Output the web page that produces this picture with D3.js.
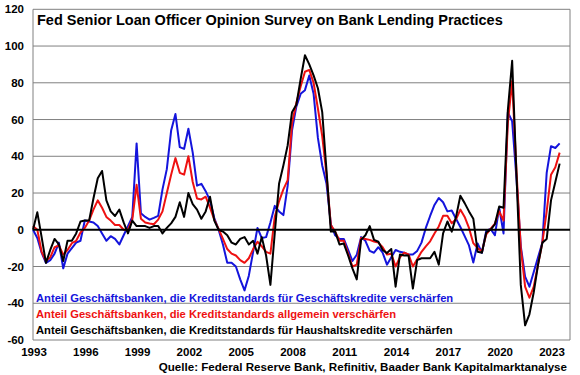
<!DOCTYPE html>
<html>
<head>
<meta charset="utf-8">
<script src="https://cdn.jsdelivr.net/npm/d3@7"></script>
<style>
  body { margin: 0; background: #fff; }
  text { font-family: "Liberation Sans", Arial, sans-serif; font-weight: bold; }
</style>
</head>
<body>
<svg id="chart" width="580" height="375"></svg>
<script>
// quarterly, 1993 Q1 .. 2023 Q3
const quarters = d3.range(123).map(i => 1993 + i / 4);
const yearTicks = [1993, 1996, 1999, 2002, 2005, 2008, 2011, 2014, 2017, 2020, 2023];
const valueTicks = [-60, -40, -20, 0, 20, 40, 60, 80, 100, 120];

// Geschäftskredite (blue)
const business = [0, -4.5, -12.5, -18, -16.5, -13, -7, -21, -13, -10, -7, -6, 5, 4.5, 4, 2,
  -2, -6, -3.5, -5, -8, -3, 2, 7, 47, 9, 7, 5.5, 6.5, 7.6, 22, 33, 54, 63, 45, 44, 55, 42,
  24, 25, 21, 16, 6.4, 0, -8, -18, -18, -20, -27, -33, -25, -12, 1, -4.5, -4, 4, 13, 10,
  8, 24, 54, 67, 74, 76, 84, 74, 50, 35, 25, 3, -3, -5, -5, -11, -17, -13.6, -4, -6, -11.5,
  -12.5, -9.5, -12.5, -19, -15, -11, -12, -12.5, -13.5, -13.5, -11.5, -7, 1, 7.5, 13.5,
  17.3, 15, 10, 10.5, 6, 1.5, -3.5, -8.5, -17.8, -7.5, -12.5, -0.5, 0.5, -3, 12, -2, 64,
  59, 28, -9, -25.5, -31, -23, -15, -7, 31, 45.5, 44.5, 47];
// allgemein (red)
const overall = [2, 0, -12, -17, -15, -9.5, -8.5, -13.5, -11, -7.3, -6, -1.5, 1, 5, 11, 16,
  12, 7, 5, 2.6, 2.6, 0, 0, 5.5, 24.5, 6, 4, 3.4, 3, 5.5, 10, 20, 30, 39, 31, 30, 40, 26,
  17, 16.5, 18, 12, 5.5, 0.5, -5, -10.5, -13, -14, -16.5, -18, -15.5, -10.5, -6.5, -9, -12,
  -13, 7, 15.5, 22, 27, 58, 69, 78, 86, 87, 80, 66, 51, 30, 2.5, -1, -6, -6, -13, -20, -19,
  -4.5, -5, -5.5, -6.4, -7, -9.5, -13.5, -13, -20, -15, -12.5, -13.4, -20, -16, -12, -9,
  -6.3, -2, 1.8, 7.6, 7.6, 3.6, 5.7, 11, 7, 1, -7.3, -10, -11.8, -2.5, 0.5, 3.4, 10, 5, 58,
  81, 32, -10, -31, -37, -31, -19, -7, 10, 30, 34, 42];
// Haushaltskredite (black)
const household = [0, 9.5, -4, -18, -11, -5, -8, -17, -6, -6, -2, 4.5, 5, 5, 17, 28, 32,
  16, 10, 7.5, 11, 4, -2, 5, 2, 2, 2, 1, 2, 2, -2, 1, 3.5, 7, 15, 7, 20, 14, 11, 6, 10, 18,
  5, 0, -1, -3, -7, -8, -5, -4, -8, -6, -13, -4, -14, -30, -2, 25, 35, 46, 64, 68, 82, 95,
  90, 84, 77, 64, 32, -1, -1, -8, -7.5, -14, -21, -27, -5.5, -3, 2, -5.5, -6.5, -11, -12.7,
  -10.5, -31, -13.5, -14, -14, -32, -16.5, -15.5, -15.5, -15.5, -12, -19, -2, 4.5, -1, 7,
  18.5, 14.5, 10, 6, -12, -12.5, -1.5, 0, 3, 12.7, 12, 65, 92, 30, -30, -52, -46, -34,
  -19, -7, -5, 16, 26, 36];

const seriesNames = [
  "Anteil Geschäftsbanken, die Kreditstandards für Geschäftskredite verschärfen",
  "Anteil Geschäftsbanken, die Kreditstandards allgemein verschärfen",
  "Anteil Geschäftsbanken, die Kreditstandards für Haushaltskredite verschärfen"
];
const seriesColors = ["#1414dc", "#ee1111", "#000000"];
const seriesData = [business, overall, household];

const svg = d3.select("#chart");
const [pLeft, pRight, pTop, pBottom] = [33, 570, 9.3, 340];

const x = d3.scaleLinear().domain([1993, 2024.1]).range([pLeft, pRight]);
const y = d3.scaleLinear().domain([-60, 120]).range([pBottom, pTop]);

// grid
svg.append("g")
  .selectAll("line")
  .data(valueTicks.filter(v => v !== 0))
  .join("line")
  .attr("x1", pLeft).attr("x2", pRight)
  .attr("y1", d => y(d)).attr("y2", d => y(d))
  .attr("stroke", "#808080").attr("stroke-width", 1);

svg.append("line")
  .attr("x1", pRight).attr("x2", pRight).attr("y1", pTop).attr("y2", pBottom)
  .attr("stroke", "#808080");
svg.append("line")
  .attr("x1", pLeft).attr("x2", pLeft).attr("y1", pTop).attr("y2", pBottom)
  .attr("stroke", "#808080");

// y labels
svg.append("g")
  .selectAll("text")
  .data(valueTicks)
  .join("text")
  .attr("x", 24).attr("y", d => y(d) + 4)
  .attr("text-anchor", "end")
  .attr("font-size", 11.5)
  .text(d => d);

// x labels
svg.append("g")
  .selectAll("text")
  .data(yearTicks)
  .join("text")
  .attr("x", d => x(d) + 1).attr("y", 356)
  .attr("text-anchor", "middle")
  .attr("font-size", 11.5)
  .text(d => d);

// lines
const line = d3.line().x((d, i) => x(quarters[i])).y(d => y(d));
seriesData.forEach((s, k) => {
  svg.append("path")
    .datum(s)
    .attr("d", line)
    .attr("fill", "none")
    .attr("stroke", seriesColors[k])
    .attr("stroke-width", 2)
    .attr("stroke-linejoin", "round");
});

// zero line
svg.append("line")
  .attr("x1", pLeft).attr("x2", pRight).attr("y1", y(0)).attr("y2", y(0))
  .attr("stroke", "#000").attr("stroke-width", 2);

// title
svg.append("text")
  .attr("x", 37).attr("y", 25)
  .attr("font-size", 14.5)
  .text("Fed Senior Loan Officer Opinion Survey on Bank Lending Practices");

// legend
svg.append("g")
  .selectAll("text")
  .data(seriesNames)
  .join("text")
  .attr("x", 36).attr("y", (d, i) => 302 + i * 16)
  .attr("font-size", 11.2)
  .attr("fill", (d, i) => seriesColors[i])
  .text(d => d);

// source
svg.append("text")
  .attr("x", 567).attr("y", 371)
  .attr("text-anchor", "end")
  .attr("font-size", 11.6)
  .text("Quelle: Federal Reserve Bank, Refinitiv, Baader Bank Kapitalmarktanalyse");
</script>
</body>
</html>
